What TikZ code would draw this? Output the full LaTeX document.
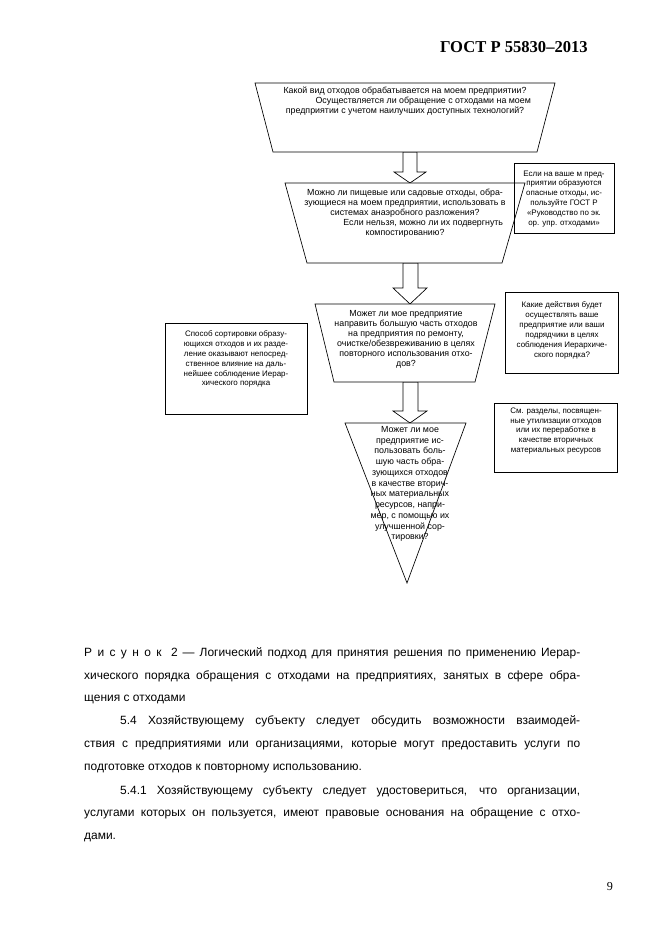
\documentclass[tikz,border=0pt]{standalone}
\usepackage{fontspec}
\setmainfont{Liberation Sans}
\newfontfamily\seriffont{Liberation Serif}
\newlength\px
\setlength\px{0.3177mm}
\tikzset{
  shp/.style={draw=black, line width=0.6pt, fill=white, line join=miter},
  bx/.style={draw=black, line width=0.6pt},
  dtext/.style={font=\fontsize{8}{9}\selectfont, align=center, inner sep=0pt},
  stext/.style={font=\fontsize{7.2}{9}\selectfont, align=center, inner sep=0pt},
  btext/.style={font=\fontsize{10.8}{13}\selectfont, inner sep=0pt, anchor=base west},
}
\begin{document}
\begin{tikzpicture}[x=0.3177mm,y=-0.3177mm]
\useasboundingbox[fill=white] (0,0) rectangle (661,936);

% header
\node[font=\seriffont\bfseries\fontsize{15}{17}\selectfont, anchor=base east, inner sep=0pt] (hdr) at (588,53) {ГОСТ Р 55830–2013};

% block arrows
\draw[shp] (403,152) coordinate (a1s) -- (403,172) -- (394,172) -- (410,183) coordinate (a1t) -- (426,172) -- (417,172) -- (417,152) -- cycle;
\draw[shp] (403,263) coordinate (a2s) -- (403,288) -- (393,288) -- (410,304) coordinate (a2t) -- (427,288) -- (418,288) -- (418,263) -- cycle;
\draw[shp] (403,382) coordinate (a3s) -- (403,411) -- (393,411) -- (410,423) coordinate (a3t) -- (427,411) -- (418,411) -- (418,382) -- cycle;

% trapezoids and triangle
\draw[shp] (255,83) -- (555,83) -- (537,152) -- (273,152) -- cycle;
\draw[shp] (285,183) -- (525,183) -- (502,263) -- (307,263) -- cycle;
\draw[shp] (315,304) -- (495,304) -- (475,382) -- (334,382) -- cycle;
\draw[shp] (345,423) -- (466,423) -- (407,583) -- cycle;

% side boxes
\draw[bx] (514,163) rectangle (614,233);
\draw[bx] (165,323) rectangle (307,414);
\draw[bx] (505,292) rectangle (618,373);
\draw[bx] (494,403) rectangle (617,472);

% texts
\node[dtext] (q1) at (405,101) {Какой вид отходов обрабатывается на моем предприятии?\\\hspace*{33pt}Осуществляется ли обращение с отходами на моем\\предприятии с учетом наилучших доступных технологий?};
\node[dtext] (q2) at (405,213) {Можно ли пищевые или садовые отходы, обра-\\зующиеся на моем предприятии, использовать в\\системах анаэробного разложения?\\\hspace*{33pt}Если нельзя, можно ли их подвергнуть\\компостированию?};
\node[dtext] (q3) at (406,339) {Может ли мое предприятие\\направить большую часть отходов\\на предприятия по ремонту,\\очистке/обезвреживанию в целях\\повторного использования отхо-\\дов?};
\node[dtext, font=\fontsize{8}{9.7}\selectfont] (q4) at (410,484) {Может ли мое\\предприятие ис-\\пользовать боль-\\шую часть обра-\\зующихся отходов\\в качестве вторич-\\ных материальных\\ресурсов, напри-\\мер, с помощью их\\улучшенной сор-\\тировки?};
\node[stext] (n1) at (564,199) {Если на ваше м пред-\\приятии образуются\\опасные отходы, ис-\\пользуйте ГОСТ Р\\«Руководство по эк.\\ор. упр. отходами»};
\node[stext] (n2) at (236,359) {Способ сортировки образу-\\ющихся отходов и их разде-\\ление оказывают непосред-\\ственное влияние на даль-\\нейшее соблюдение Иерар-\\хического порядка};
\node[stext] (n3) at (562,330) {Какие действия будет\\осуществлять ваше\\предприятие или ваши\\подрядчики в целях\\соблюдения Иерархиче-\\ского порядка?};
\node[stext] (n4) at (556,431) {См. разделы, посвящен-\\ные утилизации отходов\\или их переработке в\\качестве вторичных\\материальных ресурсов};

% caption
\node[btext] (c1) at (84,656) {\makebox[496\px][s]{Р\kern0.45em и\kern0.45em с\kern0.45em у\kern0.45em н\kern0.45em о\kern0.45em к\kern0.8em 2 — Логический подход для принятия решения по применению Иерар-}};
\node[btext] (c2) at (84,679) {\makebox[496\px][s]{хического порядка обращения с отходами на предприятиях, занятых в сфере обра-}};
\node[btext] (c3) at (84,701) {щения с отходами};

% paragraphs
\node[btext] (p1) at (120,724) {\makebox[460\px][s]{5.4 Хозяйствующему субъекту следует обсудить возможности взаимодей-}};
\node[btext] (p2) at (84,747) {\makebox[496\px][s]{ствия с предприятиями или организациями, которые могут предоставить услуги по}};
\node[btext] (p3) at (84,770) {подготовке отходов к повторному использованию.};
\node[btext] (p4) at (120,794) {\makebox[460\px][s]{5.4.1 Хозяйствующему субъекту следует удостовериться, что организации,}};
\node[btext] (p5) at (84,816) {\makebox[496\px][s]{услугами которых он пользуется, имеют правовые основания на обращение с отхо-}};
\node[btext] (p6) at (84,839) {дами.};

% page number
\node[font=\seriffont\fontsize{11}{13}\selectfont, anchor=base, inner sep=0pt] (pg) at (610,890) {9};
\end{tikzpicture}
\end{document}
